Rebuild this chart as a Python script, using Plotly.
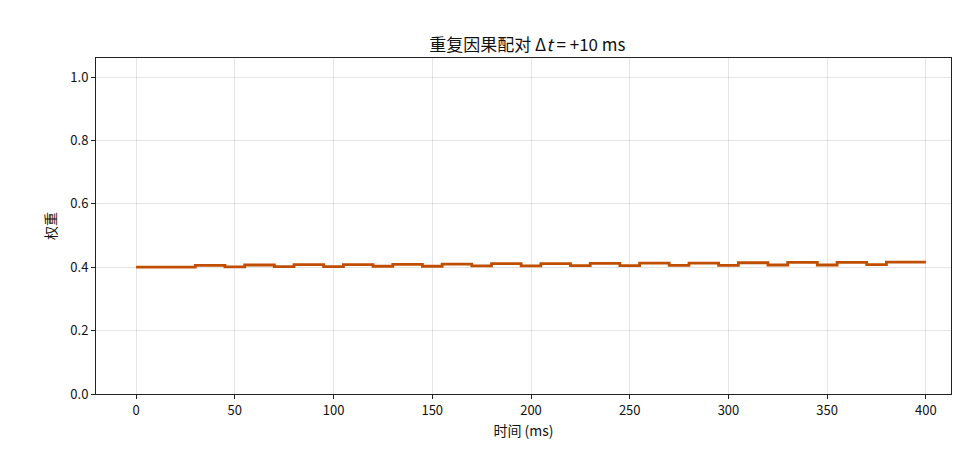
import plotly.graph_objects as go

step_times = [0, 30, 45, 55, 70, 80, 95, 105, 120, 130, 145, 155, 170, 180, 195, 205, 220, 230, 245,
              255, 270, 280, 295, 305, 320, 330, 345, 355, 370, 380, 400]
weights = [0.400, 0.406, 0.401, 0.407, 0.402, 0.408, 0.402, 0.408, 0.403, 0.409, 0.403, 0.410, 0.404,
           0.411, 0.404, 0.411, 0.405, 0.412, 0.405, 0.413, 0.406, 0.413, 0.406, 0.414, 0.407, 0.415,
           0.407, 0.415, 0.408, 0.416, 0.416]

font = "Noto Sans CJK SC"
fig = go.Figure(go.Scatter(x=step_times, y=weights, mode="lines", line=dict(shape="hv", color="#c04e01", width=2.8)))
ax = dict(showline=True, linecolor="#222", mirror=True, ticks="outside", ticklen=4, tickcolor="#222",
          gridcolor="rgba(0,0,0,0.1)", zeroline=False, tickfont=dict(size=13, color="#111"), automargin=False)
fig.update_layout(
    width=980, height=476, plot_bgcolor="white", paper_bgcolor="white",
    font=dict(family=font, color="#111"), showlegend=False,
    margin=dict(l=88, r=37, t=50, b=90),
    title=dict(text="重复因果配对 Δ<i>t</i> = +10 ms", x=0.53, xanchor="center", y=0.935, font=dict(size=17)),
    xaxis=dict(ax, range=[-20.3, 412.7], tickvals=[0, 50, 100, 150, 200, 250, 300, 350, 400],
               title=dict(text="时间 (ms)", font=dict(size=14), standoff=8)),
    yaxis=dict(ax, range=[0, 1.06], tickvals=[0, 0.2, 0.4, 0.6, 0.8, 1.0], tickformat=".1f",
               title=dict(text="权重", font=dict(size=14), standoff=10)),
)
fig.write_html("out.html")
